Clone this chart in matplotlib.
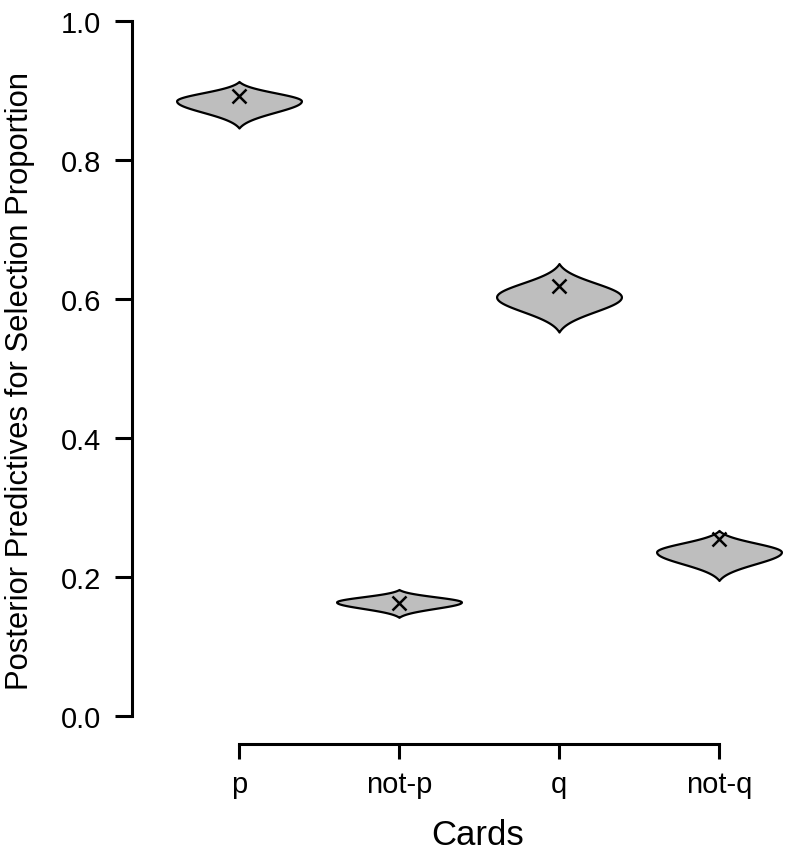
#!/usr/bin/env python
# -*- coding:utf-8 -*-
# posterior predictive violins for the four cards, R base-graphics look

import numpy as np
import matplotlib
matplotlib.use("Agg")
import matplotlib.pyplot as plt

plt.rcParams['font.family'] = ['Liberation Sans', 'DejaVu Sans']

cards = ["p", "not-p", "q", "not-q"]
# violin extent: bottom tip, widest point, top tip
viol_low = [0.846, 0.142, 0.5525, 0.195]
viol_mode = [0.885, 0.164, 0.603, 0.236]
viol_high = [0.913, 0.182, 0.651, 0.267]
# observed selection proportions (the x marks)
observed = [0.892, 0.162, 0.619, 0.255]

TAIL = 2.4      # tips sit this many sd from the mode
HALF_W = 0.39   # half width of each violin in x units


def violin_shape(lo, mode, hi, n=300):
    # split normal density cut at the tips, tapered to zero there
    y = np.linspace(lo, hi, n)
    sd = np.where(y < mode, (mode - lo) / TAIL, (hi - mode) / TAIL)
    f = np.exp(-0.5 * ((y - mode) / sd) ** 2)
    f0 = np.exp(-0.5 * TAIL ** 2)
    return y, (f - f0) / (1 - f0)


W, H = 786, 854
fig = plt.figure(figsize=(W / 100, H / 100), dpi=100)
# axes box in pixels: left 132, right 783, top 15, bottom 745
ax = fig.add_axes([132 / W, (H - 745) / H, (783 - 132) / W, (745 - 15) / H])

xs = np.arange(1, len(cards) + 1)
for x, lo, md, hi in zip(xs, viol_low, viol_mode, viol_high):
    y, w = violin_shape(lo, md, hi)
    ax.fill_betweenx(y, x - HALF_W * w, x + HALF_W * w,
                     facecolor='#BEBEBE', edgecolor='black', linewidth=1.6,
                     zorder=2)

ax.plot(xs, observed, linestyle='none', marker='x', color='black',
        markersize=10, markeredgewidth=1.8, zorder=3)

px_x = 160.0  # pixels per card
px_y = 695.0  # pixels per unit proportion
ax.set_xlim(1 - (239 - 132) / px_x, 1 + (783 - 239) / px_x)
ax.set_ylim(-(745 - 717) / px_y, (717 - 15) / px_y)

for s in ['top', 'right']:
    ax.spines[s].set_visible(False)
ax.spines['left'].set_bounds(0, 1)
ax.spines['bottom'].set_bounds(1, 4)
ax.spines['left'].set_linewidth(2.2)
ax.spines['bottom'].set_linewidth(2.2)

ax.set_yticks([0.0, 0.2, 0.4, 0.6, 0.8, 1.0])
ax.set_yticklabels(["0.0", "0.2", "0.4", "0.6", "0.8", "1.0"])
ax.set_xticks(xs)
ax.set_xticklabels(cards)
ax.tick_params(axis='y', length=12, width=2.2, pad=10, labelsize=21)
ax.tick_params(axis='x', length=11, width=2.2, pad=7.5, labelsize=21)

fig.text(20 / W, 1 - 381 / H, "Posterior Predictives for Selection Proportion",
         rotation=90, ha='center', va='center', fontsize=22.3)
fig.text(478 / W, 1 - 845 / H, "Cards", ha='center', va='baseline',
         fontsize=25)

fig.savefig("out.png", dpi=100)
